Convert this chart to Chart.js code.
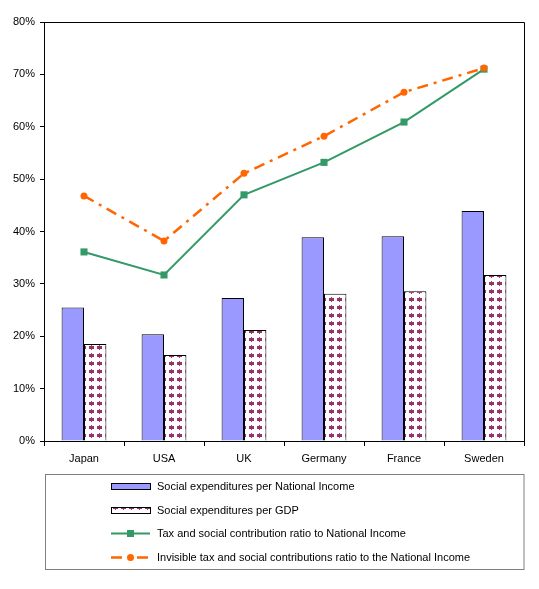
<!DOCTYPE html>
<html>
<head>
<meta charset="utf-8">
<script src="https://cdn.jsdelivr.net/npm/chart.js@4/dist/chart.umd.min.js"></script>
<style>
  body { margin: 0; background: #fff; }
</style>
</head>
<body>
<canvas id="chart" width="539" height="589" style="width:539px;height:589px"></canvas>
<script>
const countries = ["Japan", "USA", "UK", "Germany", "France", "Sweden"];
const perNationalIncome = [25.5, 20.4, 27.3, 38.9, 39.1, 43.9];
const perGdp = [18.5, 16.4, 21.2, 28.1, 28.6, 31.7];
const taxRatio = [36.1, 31.7, 47.0, 53.2, 60.9, 71.0];
const invisibleTaxRatio = [46.8, 38.2, 51.1, 58.2, 66.6, 71.2];
const yTicks = [0, 10, 20, 30, 40, 50, 60, 70, 80];

const seriesNames = [
  "Social expenditures per National Income",
  "Social expenditures per GDP",
  "Tax and social contribution ratio to National Income",
  "Invisible tax and social contributions ratio to the National Income",
];

const FONT = "'Liberation Sans', Arial, sans-serif";

// white tile with small maroon blobs, like the old excel fill
function makePattern() {
  const c = document.createElement("canvas");
  c.width = 8;
  c.height = 8;
  const g = c.getContext("2d");
  g.fillStyle = "#ffffff";
  g.fillRect(0, 0, 8, 8);
  g.fillStyle = "#993366";
  g.fillRect(3, 1, 1, 1);
  g.fillRect(2, 2, 3, 1);
  g.fillRect(1, 3, 5, 1);
  g.fillRect(2, 4, 3, 1);
  g.fillRect(3, 5, 1, 1);
  // fill the inner corners so the marks look fuller
  g.fillRect(1, 2, 1, 1);
  g.fillRect(5, 2, 1, 1);
  g.fillRect(1, 4, 1, 1);
  g.fillRect(5, 4, 1, 1);
  return document.getElementById("chart").getContext("2d").createPattern(c, "repeat");
}
const pattern = makePattern();

const frame = {
  id: "frame",
  afterDatasetsDraw(chart) {
    const { ctx, chartArea: a } = chart;
    ctx.save();
    ctx.strokeStyle = "#000";
    ctx.lineWidth = 1;
    ctx.beginPath();
    ctx.moveTo(a.left, a.top + 0.5);
    ctx.lineTo(a.right + 0.5, a.top + 0.5);
    ctx.lineTo(a.right + 0.5, a.bottom);
    ctx.stroke();
    ctx.restore();
  },
};

// legend box underneath, one series per row
const boxLegend = {
  id: "boxLegend",
  afterDraw(chart) {
    const ctx = chart.ctx;
    const ds = seriesNames.map((n) => chart.data.datasets.find((d) => d.label === n));
    ctx.save();
    ctx.strokeStyle = "#808080";
    ctx.lineWidth = 1;
    ctx.strokeRect(45.5, 474.5, 478.5, 95);
    const rows = [486, 510, 533, 557];
    const x0 = 111, x1 = 150;
    ds.forEach((d, i) => {
      const y = rows[i];
      if (d.type === "line") {
        ctx.strokeStyle = d.borderColor;
        ctx.lineWidth = d.borderWidth;
        ctx.setLineDash(d.borderDash || []);
        ctx.beginPath();
        ctx.moveTo(x0, y + 0.5);
        ctx.lineTo(x1, y + 0.5);
        ctx.stroke();
        ctx.setLineDash([]);
        ctx.fillStyle = d.pointBackgroundColor;
        const mx = (x0 + x1) / 2;
        if (d.pointStyle === "rect") {
          ctx.fillRect(mx - 3.5, y - 3, 7, 7);
        } else {
          ctx.beginPath();
          ctx.arc(mx, y + 0.5, 3.5, 0, Math.PI * 2);
          ctx.fill();
        }
      } else {
        ctx.fillStyle = d.backgroundColor;
        ctx.fillRect(x0, y - 3, x1 - x0, 6);
        ctx.strokeStyle = "#000";
        ctx.lineWidth = 1;
        ctx.strokeRect(x0 + 0.5, y - 2.5, x1 - x0, 6);
      }
      ctx.fillStyle = "#000";
      ctx.font = "11px " + FONT;
      ctx.textBaseline = "middle";
      ctx.fillText(d.label, 157, y + 1);
    });
    ctx.restore();
  },
};

new Chart(document.getElementById("chart"), {
  type: "bar",
  data: {
    labels: countries,
    datasets: [
      {
        label: seriesNames[0],
        data: perNationalIncome,
        backgroundColor: "#9999FF",
        borderColor: "#000",
        borderWidth: 1,
        order: 2,
      },
      {
        label: seriesNames[1],
        data: perGdp,
        backgroundColor: pattern,
        borderColor: "#000",
        borderWidth: 1,
        order: 3,
      },
      {
        label: seriesNames[2],
        type: "line",
        data: taxRatio,
        borderColor: "#339966",
        borderWidth: 2,
        pointStyle: "rect",
        pointRadius: 5,
        pointBackgroundColor: "#339966",
        pointBorderWidth: 0,
        tension: 0,
        order: 1,
      },
      {
        label: seriesNames[3],
        type: "line",
        data: invisibleTaxRatio,
        borderColor: "#FF6600",
        borderWidth: 2.5,
        borderDash: [11, 6, 3, 6],
        pointStyle: "circle",
        pointRadius: 3.5,
        pointBackgroundColor: "#FF6600",
        pointBorderWidth: 0,
        tension: 0,
        order: 0,
      },
    ],
  },
  options: {
    responsive: false,
    animation: false,
    datasets: {
      bar: { categoryPercentage: 0.56, barPercentage: 1.0 },
    },
    layout: { padding: { top: 22, right: 15, left: 0, bottom: 118 } },
    plugins: {
      legend: { display: false },
      tooltip: { enabled: false },
    },
    scales: {
      x: {
        offset: true,
        grid: {
          display: true,
          offset: true,
          drawOnChartArea: false,
          tickLength: 5,
          color: "#000",
        },
        border: { color: "#000", width: 1 },
        ticks: { color: "#000", font: { family: FONT, size: 11 }, padding: 6 },
        afterFit(scale) {
          scale.height = 30;
        },
      },
      y: {
        min: 0,
        max: 80,
        afterBuildTicks(scale) {
          scale.ticks = yTicks.map((v) => ({ value: v }));
        },
        grid: {
          display: true,
          drawOnChartArea: false,
          tickLength: 4,
          color: "#000",
        },
        border: { color: "#000", width: 1 },
        ticks: {
          color: "#000",
          font: { family: FONT, size: 11 },
          padding: 5,
          callback: (v) => v + "%",
        },
        afterFit(scale) {
          scale.width = 44;
        },
      },
    },
  },
  plugins: [frame, boxLegend],
});
</script>
</body>
</html>
